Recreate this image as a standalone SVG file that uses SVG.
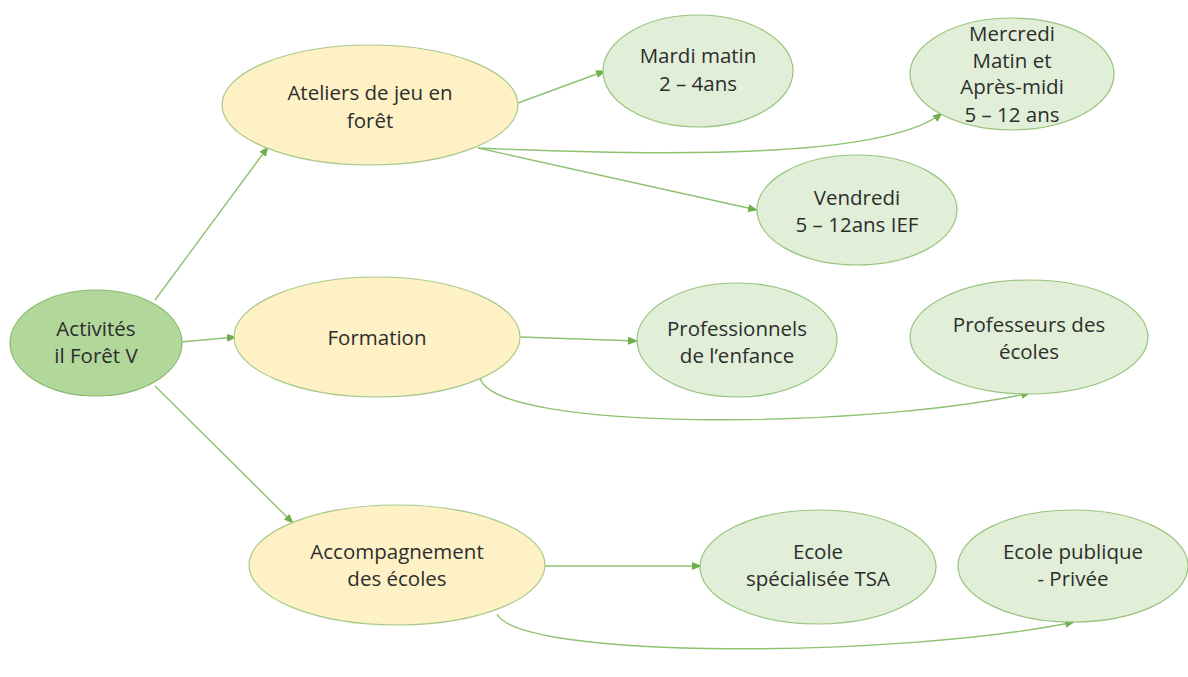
<svg xmlns="http://www.w3.org/2000/svg" width="1188" height="677" viewBox="0 0 1188 677">
<style>
.root{fill:#b1d79a;stroke:#86b86a;stroke-width:1.2}
.cat{fill:#fdf1c5;stroke:#a9c98a;stroke-width:1.2}
.leaf{fill:#e1efd8;stroke:#98c47e;stroke-width:1.2}
text{font-family:"Open Sans","Liberation Sans",sans-serif;font-size:20.5px;fill:#2d2d2d;text-anchor:middle}
.c{fill:none;stroke:#8dc270;stroke-width:1.4;marker-end:url(#ah)}
</style>
<defs>
<marker id="ah" markerWidth="10" markerHeight="8" refX="9" refY="4" orient="auto" markerUnits="userSpaceOnUse">
<path d="M0,0 L10,4 L0,8 Z" fill="#6fae4c"/>
</marker>
</defs>
<rect width="1188" height="677" fill="#ffffff"/>
<g id="connectors">
<path class="c" d="M155,300 L268,147"/>
<path class="c" d="M181,342 L236,337"/>
<path class="c" d="M155,386 L293,523"/>
<path class="c" d="M518,103 L605,71"/>
<path class="c" d="M478,148 C700,158 890,155 942,113"/>
<path class="c" d="M478,148 L757,210"/>
<path class="c" d="M520,337 L637,341"/>
<path class="c" d="M480,378 C495,432 860,430 1030,393"/>
<path class="c" d="M497,614 C520,660 900,658 1074,622"/>
<path class="c" d="M545,566 L701,566"/>
</g>
<g id="n-root">
<ellipse class="root" cx="96" cy="343" rx="86" ry="53"/>
<text x="96" y="336">Activités</text>
<text x="96" y="363">il Forêt V</text>
</g>
<g id="n-ateliers">
<ellipse class="cat" cx="370" cy="105" rx="148" ry="60"/>
<text x="370" y="100">Ateliers de jeu en</text>
<text x="370" y="128">forêt</text>
</g>
<g id="n-mardi">
<ellipse class="leaf" cx="698" cy="71" rx="95" ry="56"/>
<text x="698" y="63">Mardi matin</text>
<text x="698" y="91">2 – 4ans</text>
</g>
<g id="n-mercredi">
<ellipse class="leaf" cx="1012" cy="74" rx="102" ry="56"/>
<text x="1012" y="41">Mercredi</text>
<text x="1012" y="68">Matin et</text>
<text x="1012" y="94">Après-midi</text>
<text x="1012" y="122">5 – 12 ans</text>
</g>
<g id="n-vendredi">
<ellipse class="leaf" cx="857" cy="210" rx="100" ry="55"/>
<text x="857" y="205">Vendredi</text>
<text x="857" y="232">5 – 12ans IEF</text>
</g>
<g id="n-formation">
<ellipse class="cat" cx="377" cy="337" rx="143" ry="60"/>
<text x="377" y="345">Formation</text>
</g>
<g id="n-professionnels">
<ellipse class="leaf" cx="737" cy="340" rx="100" ry="57"/>
<text x="737" y="336">Professionnels</text>
<text x="737" y="363">de l’enfance</text>
</g>
<g id="n-professeurs">
<ellipse class="leaf" cx="1029" cy="337" rx="119" ry="57"/>
<text x="1029" y="332">Professeurs des</text>
<text x="1029" y="359">écoles</text>
</g>
<g id="n-accompagnement">
<ellipse class="cat" cx="397" cy="565" rx="148" ry="60"/>
<text x="397" y="559">Accompagnement</text>
<text x="397" y="586">des écoles</text>
</g>
<g id="n-tsa">
<ellipse class="leaf" cx="818" cy="567" rx="118" ry="57"/>
<text x="818" y="559">Ecole</text>
<text x="818" y="586">spécialisée TSA</text>
</g>
<g id="n-publique">
<ellipse class="leaf" cx="1073" cy="566" rx="115" ry="56"/>
<text x="1073" y="559">Ecole publique</text>
<text x="1073" y="586">- Privée</text>
</g>
</svg>
